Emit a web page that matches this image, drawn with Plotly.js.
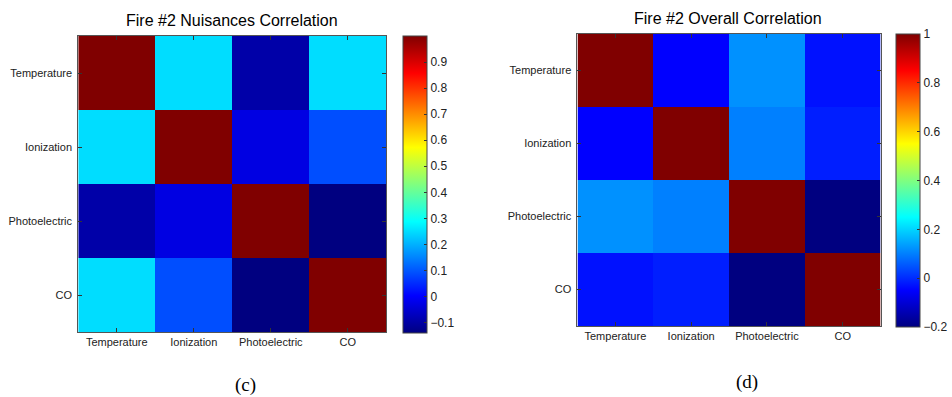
<!DOCTYPE html>
<html>
<head>
<meta charset="utf-8">
<script src="https://cdn.plot.ly/plotly-3.0.1.min.js"></script>
<style>html,body{margin:0;padding:0;background:#fff;}#chart{width:952px;height:397px;}</style>
</head>
<body>
<div id="chart"></div>
<script>
// ---- data ----
const sensors = ['Temperature', 'Ionization', 'Photoelectric', 'CO'];

const titleNuisance = 'Fire #2 Nuisances Correlation';
const titleOverall = 'Fire #2 Overall Correlation';
const captionLeft = '(c)';
const captionRight = '(d)';

// Fire #2 nuisances correlation (rows/cols: Temperature, Ionization, Photoelectric, CO)
const nuisanceTemp  = [1.00, 0.25, -0.095, 0.25];
const nuisanceIon   = [0.25, 1.00, -0.03, 0.09];
const nuisancePhoto = [-0.095, -0.03, 1.00, -0.14];
const nuisanceCO    = [0.25, 0.09, -0.14, 1.00];

// Fire #2 overall correlation
const overallTemp  = [1.00, -0.05, 0.12, -0.03];
const overallIon   = [-0.05, 1.00, 0.10, -0.015];
const overallPhoto = [0.12, 0.10, 1.00, -0.20];
const overallCO    = [-0.03, -0.015, -0.20, 1.00];

const nuisanceTicks = [-0.1, 0, 0.1, 0.2, 0.3, 0.4, 0.5, 0.6, 0.7, 0.8, 0.9];
const overallTicks = [-0.2, 0, 0.2, 0.4, 0.6, 0.8, 1];

// ---- style ----
const W = 952, H = 397;
const jet = [
  [0, 'rgb(0,0,128)'],
  [0.125, 'rgb(0,0,255)'],
  [0.375, 'rgb(0,255,255)'],
  [0.625, 'rgb(255,255,0)'],
  [0.875, 'rgb(255,0,0)'],
  [1, 'rgb(128,0,0)']
];
const FONT = 'Liberation Sans, Arial, sans-serif';

function cbar(left, top, len, ticks) {
  return {
    x: left / W, xanchor: 'left', xpad: 0, xref: 'paper',
    y: 1 - top / H, yanchor: 'top', ypad: 0, yref: 'paper',
    lenmode: 'pixels', len: len,
    thickness: 24, thicknessmode: 'pixels',
    outlinewidth: 1, outlinecolor: '#444',
    ticks: 'inside', ticklen: 3, tickcolor: '#333',
    tickmode: 'array', tickvals: ticks,
    tickfont: {family: FONT, size: 12, color: '#222'},
    ticklabelpad: 1
  };
}

const traces = [
  {
    type: 'heatmap', x: sensors, y: sensors,
    z: [nuisanceTemp, nuisanceIon, nuisancePhoto, nuisanceCO],
    colorscale: jet, xaxis: 'x', yaxis: 'y',
    colorbar: cbar(407, 36, 297, nuisanceTicks),
    hoverinfo: 'x+y+z'
  },
  {
    type: 'heatmap', x: sensors, y: sensors,
    z: [overallTemp, overallIon, overallPhoto, overallCO],
    colorscale: jet, xaxis: 'x2', yaxis: 'y2',
    colorbar: cbar(905, 34, 293, overallTicks),
    hoverinfo: 'x+y+z'
  }
];

function xax(l, r, anchor) {
  return {
    domain: [l / W, r / W], anchor: anchor, type: 'category',
    showline: true, mirror: 'ticks', linecolor: '#555', linewidth: 1,
    ticks: 'inside', ticklen: 4, tickcolor: '#333', showgrid: false, zeroline: false,
    tickfont: {family: FONT, size: 11, color: '#222'}, fixedrange: true
  };
}
function yax(t, b, anchor) {
  return {
    domain: [1 - b / H, 1 - t / H], anchor: anchor, type: 'category',
    autorange: 'reversed',
    showline: true, mirror: 'ticks', linecolor: '#555', linewidth: 1,
    ticks: 'inside', ticklen: 4, tickcolor: '#333', showgrid: false, zeroline: false,
    tickfont: {family: FONT, size: 11, color: '#222'}, ticklabelstandoff: 3, fixedrange: true
  };
}

const layout = {
  width: W, height: H,
  margin: {l: 0, r: 0, t: 0, b: 0},
  paper_bgcolor: '#fff', plot_bgcolor: '#fff',
  showlegend: false,
  xaxis: xax(79, 390, 'y'),
  yaxis: yax(36, 332, 'x'),
  xaxis2: xax(583, 889, 'y2'),
  yaxis2: yax(34, 326, 'x2'),
  annotations: [
    {text: titleNuisance, xref: 'paper', yref: 'paper', x: 234.5 / W, y: 1 - 20 / H,
     xanchor: 'center', yanchor: 'middle', showarrow: false,
     font: {family: FONT, size: 16, color: '#000'}},
    {text: titleOverall, xref: 'paper', yref: 'paper', x: 735 / W, y: 1 - 19 / H,
     xanchor: 'center', yanchor: 'middle', showarrow: false,
     font: {family: FONT, size: 16, color: '#000'}},
    {text: captionLeft, xref: 'paper', yref: 'paper', x: 248 / W, y: 1 - 385 / H,
     xanchor: 'center', yanchor: 'middle', showarrow: false,
     font: {family: 'Liberation Serif, Times New Roman, serif', size: 19, color: '#000'}},
    {text: captionRight, xref: 'paper', yref: 'paper', x: 754 / W, y: 1 - 382 / H,
     xanchor: 'center', yanchor: 'middle', showarrow: false,
     font: {family: 'Liberation Serif, Times New Roman, serif', size: 19, color: '#000'}}
  ]
};

Plotly.newPlot('chart', traces, layout, {displayModeBar: false, responsive: false});
</script>
</body>
</html>
